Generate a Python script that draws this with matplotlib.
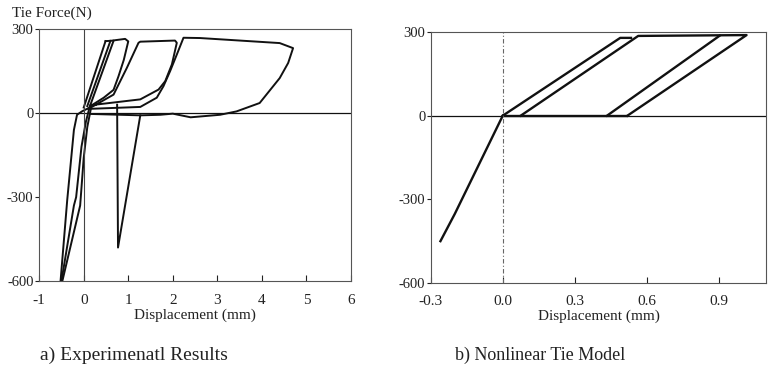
import numpy as np
import matplotlib
matplotlib.use('Agg')
import matplotlib.pyplot as plt

plt.rcParams['font.family'] = ['Liberation Serif', 'DejaVu Serif']

# ---- a) experimental hysteresis, traced branches (mm, N)
comp1_x = [-0.52, -0.37, -0.22, -0.15, -0.04, 0.11]
comp1_y = [-600, -310, -60, -6, 6, 18]
comp2_x = [-0.50, -0.22, -0.17, -0.05, 0.05, 0.13]
comp2_y = [-600, -330, -300, -120, -30, 20]
comp3_x = [-0.48, -0.08, 0.00, 0.08, 0.16]
comp3_y = [-600, -330, -160, -50, 15]

up1_x = [0.00, 0.49]
up1_y = [20, 257]
up2_x = [0.08, 0.60]
up2_y = [25, 258]
up3_x = [0.14, 0.67]
up3_y = [25, 258]
loop1_x = [0.49, 0.60, 0.93, 1.00, 0.90, 0.78, 0.67, 0.45, 0.15]
loop1_y = [257, 258, 265, 256, 190, 131, 83, 55, 25]

loop2_x = [0.15, 0.67, 0.97, 1.23, 1.27, 2.05, 2.09, 1.98, 1.83, 1.68, 1.27, 0.15]
loop2_y = [19, 66, 162, 251, 255, 259, 251, 174, 114, 84, 49, 28]

big_x = [0.10, 1.27, 1.64, 1.79, 1.94, 2.09, 2.24, 2.61, 4.40, 4.70, 4.59, 4.40,
         3.95, 3.43, 3.06, 2.40, 2.00, 1.72, 1.27, 0.15]
big_y = [15, 22, 55, 96, 150, 209, 269, 268, 250, 232, 179, 125,
         36, 6, -6, -15, -2, -6, -8, -3]

spike_x = [0.75, 0.77, 1.27]
spike_y = [30, -480, -8]

# ---- b) nonlinear tie model
comp_x = [-0.26, -0.20, 0.0]
comp_y = [-450, -352, 0]
m1_x = [0.0, 0.49, 0.535]
m1_y = [0, 279, 279]
m2_x = [0.075, 0.565, 1.017, 0.52]
m2_y = [0, 286, 289, 0]
m3_x = [0.435, 0.905]
m3_y = [0, 287]
zero_x = [0.0, 0.52]
zero_y = [0, 0]

fig = plt.figure(figsize=(7.68, 3.68), dpi=100)
ax1 = fig.add_axes([0.051, 0.236, 0.406, 0.685])
ax2 = fig.add_axes([0.561, 0.231, 0.437, 0.682])

ink = '#111111'
txt = '#222222'
lw = 1.4

for xs, ys in [(comp1_x, comp1_y), (comp2_x, comp2_y), (comp3_x, comp3_y),
               (up1_x, up1_y), (up2_x, up2_y), (up3_x, up3_y),
               (loop1_x, loop1_y), (loop2_x, loop2_y), (big_x, big_y),
               (spike_x, spike_y)]:
    ax1.plot(xs, ys, color=ink, lw=lw)
ax1.axhline(0, color=ink, lw=0.9)
ax1.axvline(0, color='#444444', lw=0.8)
ax1.set_xlim(-1, 6)
ax1.set_ylim(-600, 300)
ax1.set_xticks(range(-1, 7))
ax1.set_xticklabels([str(v) for v in range(-1, 7)])
ax1.set_yticks([300, 0, -300, -600])

for xs, ys in [(comp_x, comp_y), (m1_x, m1_y), (m2_x, m2_y),
               (m3_x, m3_y), (zero_x, zero_y)]:
    ax2.plot(xs, ys, color=ink, lw=lw + 0.3)
ax2.axhline(0, color=ink, lw=0.9)
ax2.axvline(0, color='#666666', lw=0.8, ls=(0, (4, 2, 1, 2)))
ax2.set_xlim(-0.3, 1.1)
ax2.set_ylim(-600, 300)
ax2.set_xticks([-0.3, 0.0, 0.3, 0.6, 0.9])
ax2.set_xticklabels(['-0.3', '0.0', '0.3', '0.6', '0.9'])
ax2.set_yticks([300, 0, -300, -600])

for ax in (ax1, ax2):
    for s in ax.spines.values():
        s.set_color('#555555')
        s.set_linewidth(0.8)
        s.set_linestyle((0, (5, 1)))
    ax.tick_params(axis='x', direction='in', length=4, pad=9, labelsize=11, colors=txt)
    ax.tick_params(axis='y', direction='out', length=3, pad=1, labelsize=10.5, colors=txt)
    ax.set_xlabel('Displacement (mm)', fontsize=11, color=txt, labelpad=1)
    ax.set_yticklabels(['300', '0', '-300', '-600'])

fig.text(0.016, 0.965, 'Tie Force(N)', fontsize=11, color=txt, ha='left', va='center')
fig.text(0.052, 0.035, 'a) Experimenatl Results', fontsize=14, color=txt, ha='left', va='center')
fig.text(0.592, 0.035, 'b) Nonlinear Tie Model', fontsize=13, color=txt, ha='left', va='center')

fig.savefig('out.png', dpi=100)
